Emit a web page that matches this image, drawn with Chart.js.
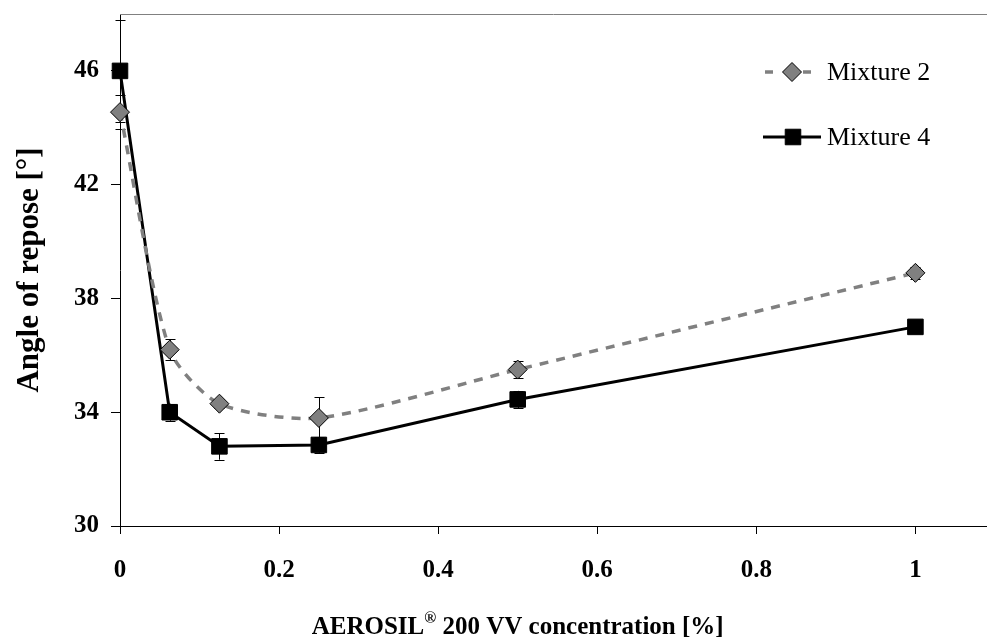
<!DOCTYPE html>
<html>
<head>
<meta charset="utf-8">
<script src="https://cdn.jsdelivr.net/npm/chart.js@4/dist/chart.umd.min.js"></script>
<style>
    html, body { margin: 0; padding: 0; background: #fff; }
</style>
</head>
<body>
<canvas id="myChart" width="987" height="644"></canvas>
<script>
// Données
const concentrations = [0, 0.0625, 0.125, 0.25, 0.5, 1];
const mixture2 = [44.55, 36.2, 34.3, 33.8, 35.5, 38.9];
const mixture2Err = [0.6, 0.37, 0.15, 0.72, 0.3, 0.2];
const mixture4 = [46.0, 34.0, 32.8, 32.85, 34.45, 37.0];
const mixture4Err = [1.8, 0.3, 0.47, 0.28, 0.3, 0.2];
const xTicks = [0, 0.2, 0.4, 0.6, 0.8, 1];
const yTicks = [30, 34, 38, 42, 46];

const serif = '"Liberation Serif", "Times New Roman", serif';

function toPoints(values) {
    return concentrations.map((c, i) => ({ x: c, y: values[i] }));
}

// Barres d'erreur, dessinées sous les marqueurs
const errorBars = {
    id: 'errorBars',
    beforeDatasetsDraw(chart) {
        const ctx = chart.ctx;
        const yScale = chart.scales.y;
        ctx.save();
        ctx.strokeStyle = '#000';
        ctx.lineWidth = 1;
        chart.data.datasets.forEach((ds, i) => {
            const meta = chart.getDatasetMeta(i);
            meta.data.forEach((pt, j) => {
                const v = ds.data[j].y;
                const e = ds.errors[j];
                const top = yScale.getPixelForValue(v + e);
                const bot = yScale.getPixelForValue(v - e);
                const x = Math.round(pt.x) + 0.5;
                ctx.beginPath();
                ctx.moveTo(x, top); ctx.lineTo(x, bot);
                ctx.moveTo(x - 5, Math.round(top) + 0.5); ctx.lineTo(x + 5, Math.round(top) + 0.5);
                ctx.moveTo(x - 5, Math.round(bot) + 0.5); ctx.lineTo(x + 5, Math.round(bot) + 0.5);
                ctx.stroke();
            });
        });
        ctx.restore();
    }
};

function drawMarker(ctx, ds, mx, my) {
    ctx.fillStyle = ds.pointBackgroundColor;
    ctx.strokeStyle = ds.pointBorderColor;
    ctx.lineWidth = ds.pointBorderWidth;
    const r = ds.pointRadius;
    ctx.beginPath();
    if (ds.pointStyle === 'rectRot') {
        ctx.moveTo(mx, my - r);
        ctx.lineTo(mx + r, my);
        ctx.lineTo(mx, my + r);
        ctx.lineTo(mx - r, my);
        ctx.closePath();
    } else {
        const s = r * Math.SQRT1_2;
        ctx.rect(mx - s, my - s, 2 * s, 2 * s);
    }
    ctx.fill();
    ctx.stroke();
}

// Titres, bordure du haut et légende
const decorations = {
    id: 'decorations',
    afterDraw(chart) {
        const ctx = chart.ctx;
        const area = chart.chartArea;
        const xScale = chart.scales.x;
        ctx.save();

        // bordure haute
        ctx.strokeStyle = '#808080';
        ctx.lineWidth = 1;
        ctx.beginPath();
        ctx.moveTo(area.left, area.top + 0.5);
        ctx.lineTo(chart.width, area.top + 0.5);
        ctx.stroke();

        // titre de l'axe Y
        ctx.fillStyle = '#000';
        ctx.font = 'bold 31px ' + serif;
        ctx.textAlign = 'center';
        ctx.textBaseline = 'middle';
        ctx.save();
        ctx.translate(30, (area.top + area.bottom) / 2);
        ctx.rotate(-Math.PI / 2);
        ctx.fillText('Angle of repose [°]', 0, 0);
        ctx.restore();

        // titre de l'axe X avec ® en exposant
        const part1 = 'AEROSIL';
        const sup = '®';
        const part2 = ' 200 VV concentration [%]';
        ctx.font = 'bold 25px ' + serif;
        const w1 = ctx.measureText(part1).width;
        const w3 = ctx.measureText(part2).width;
        ctx.font = 'bold 16px ' + serif;
        const w2 = ctx.measureText(sup).width;
        const total = w1 + w2 + w3;
        const cx = xScale.getPixelForValue(0.5);
        let x = cx - total / 2;
        const base = 634;
        ctx.textAlign = 'left';
        ctx.textBaseline = 'alphabetic';
        ctx.font = 'bold 25px ' + serif;
        ctx.fillText(part1, x, base);
        x += w1;
        ctx.font = 'bold 16px ' + serif;
        ctx.fillText(sup, x, base - 11);
        x += w2;
        ctx.font = 'bold 25px ' + serif;
        ctx.fillText(part2, x, base);

        // légende
        const ds2 = chart.data.datasets[0];
        const ds4 = chart.data.datasets[1];
        ctx.strokeStyle = ds2.borderColor;
        ctx.lineWidth = ds2.borderWidth;
        ctx.beginPath();
        ctx.moveTo(765, 72); ctx.lineTo(773, 72);
        ctx.moveTo(803, 72); ctx.lineTo(811, 72);
        ctx.stroke();
        drawMarker(ctx, ds2, 792, 72);

        ctx.strokeStyle = ds4.borderColor;
        ctx.lineWidth = ds4.borderWidth;
        ctx.beginPath();
        ctx.moveTo(763, 137); ctx.lineTo(821, 137);
        ctx.stroke();
        drawMarker(ctx, ds4, 793, 137);

        ctx.fillStyle = '#000';
        ctx.font = '26px ' + serif;
        ctx.textAlign = 'left';
        ctx.textBaseline = 'middle';
        ctx.fillText(ds2.label, 827, 73);
        ctx.fillText(ds4.label, 827, 138);
        ctx.restore();
    }
};

const ctx = document.getElementById('myChart').getContext('2d');
const chart = new Chart(ctx, {
    type: 'line',
    data: {
        datasets: [{
            label: 'Mixture 2',
            data: toPoints(mixture2),
            errors: mixture2Err,
            borderColor: '#808080',
            borderWidth: 3.5,
            borderDash: [9, 8],
            tension: 0.25,
            pointStyle: 'rectRot',
            pointRadius: 9.5,
            pointHoverRadius: 9.5,
            pointBackgroundColor: '#808080',
            pointBorderColor: '#000',
            pointBorderWidth: 1,
            clip: false
        }, {
            label: 'Mixture 4',
            data: toPoints(mixture4),
            errors: mixture4Err,
            borderColor: '#000',
            borderWidth: 3,
            tension: 0,
            pointStyle: 'rect',
            pointRadius: 11,
            pointHoverRadius: 11,
            pointBackgroundColor: '#000',
            pointBorderColor: '#000',
            pointBorderWidth: 1,
            clip: false
        }]
    },
    options: {
        responsive: false,
        animation: false,
        layout: { autoPadding: false, padding: { top: 14, right: 0, left: 0, bottom: 0 } },
        plugins: {
            legend: { display: false },
            tooltip: { enabled: false }
        },
        scales: {
            x: {
                type: 'linear',
                min: 0,
                max: 1.09,
                afterBuildTicks: s => { s.ticks = xTicks.map(v => ({ value: v })); },
                afterFit: s => { s.height = 118; s.paddingLeft = 0; s.paddingRight = 0; },
                grid: { drawOnChartArea: false, drawTicks: true, tickLength: 8, color: '#000' },
                border: { color: '#000', width: 1 },
                ticks: {
                    color: '#000',
                    padding: 22,
                    maxRotation: 0,
                    font: { family: serif, size: 25, weight: 'bold' },
                    callback: v => String(v)
                }
            },
            y: {
                min: 30,
                max: 48,
                afterBuildTicks: s => { s.ticks = yTicks.map(v => ({ value: v })); },
                afterFit: s => { s.width = 120; s.paddingTop = 0; s.paddingBottom = 0; },
                grid: { drawOnChartArea: false, drawTicks: true, tickLength: 9, color: '#000' },
                border: { color: '#000', width: 1 },
                ticks: {
                    color: '#000',
                    padding: 12,
                    font: { family: serif, size: 25, weight: 'bold' }
                }
            }
        }
    },
    plugins: [errorBars, decorations]
});
</script>
</body>
</html>
